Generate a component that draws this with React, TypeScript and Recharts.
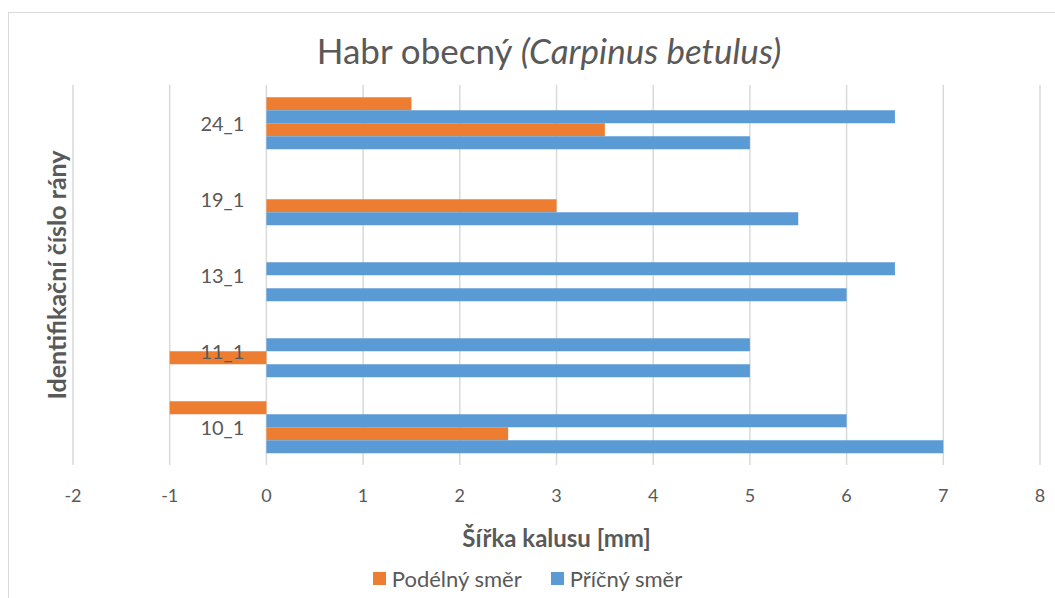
import React from 'react';
import { BarChart, Bar, XAxis, YAxis, CartesianGrid, Legend, Label } from 'recharts';

// categories listed top to bottom, as in the picture
const categories = ['24_1', '19_1', '13_1', '11_1', '10_1'];

// four series per wound: longitudinal / transverse measured twice
const podelny1 = [1.5, null, null, null, -1];
const pricny1 = [6.5, null, 6.5, 5, 6];
const podelny2 = [3.5, 3, null, -1, 2.5];
const pricny2 = [5, 5.5, 6, 5, 7];

const xTicks = [-2, -1, 0, 1, 2, 3, 4, 5, 6, 7, 8];

const data = categories.map((id, i) => ({
  id,
  podelny1: podelny1[i],
  pricny1: pricny1[i],
  podelny2: podelny2[i],
  pricny2: pricny2[i],
}));

const W = 1055;
const H = 598;
const MARGIN = { top: 85, right: 15, bottom: 48, left: 72 };
const Y_AXIS_W = 1;
const X_MIN = -2;
const X_MAX = 8;
const PLOT_LEFT = MARGIN.left + Y_AXIS_W;
const PLOT_W = W - PLOT_LEFT - MARGIN.right;
const ZERO_X = PLOT_LEFT + (PLOT_W * (0 - X_MIN)) / (X_MAX - X_MIN);

const ORANGE = '#ED7D31';
const BLUE = '#5B9BD5';
const TEXT = '#595959';
const GRID = '#d9d9d9';
const FONT = 'Lato, "Open Sans", sans-serif';

const CategoryTick = ({ y, payload }: any) => (
  <text x={ZERO_X - 22} y={y} textAnchor="end" dominantBaseline="central" fill={TEXT} fontSize={20} fontFamily={FONT}>
    {payload.value}
  </text>
);

const XTitle = ({ viewBox }: any) => (
  <text
    x={viewBox.x + viewBox.width / 2}
    y={viewBox.y + 72}
    textAnchor="middle"
    dominantBaseline="central"
    fill={TEXT}
    fontSize={24}
    fontWeight={700}
    fontFamily={FONT}
  >
    Šířka kalusu [mm]
  </text>
);

const YTitle = ({ viewBox }: any) => {
  const cx = viewBox.x + viewBox.width - 17;
  const cy = viewBox.y + viewBox.height / 2;
  return (
    <text
      x={cx}
      y={cy}
      transform={`rotate(-90, ${cx}, ${cy})`}
      textAnchor="middle"
      dominantBaseline="central"
      fill={TEXT}
      fontSize={25}
      fontWeight={700}
      fontFamily={FONT}
    >
      Identifikační číslo rány
    </text>
  );
};

const LegendContent = ({ payload }: any) => (
  <div style={{ display: 'flex', justifyContent: 'center', gap: 29, fontFamily: FONT, fontSize: 22, color: TEXT, lineHeight: '25px' }}>
    {(payload || [])
      .filter((entry: any) => entry.type !== 'none')
      .map((entry: any) => (
        <div key={entry.value} style={{ display: 'flex', alignItems: 'center', gap: 6 }}>
          <span style={{ width: 13, height: 13, background: entry.color, display: 'inline-block' }} />
          <span>{entry.value}</span>
        </div>
      ))}
  </div>
);

export default function App() {
  return (
    <div style={{ position: 'absolute', left: 0, top: 0, width: W, height: H, overflow: 'hidden', background: '#fff', fontFamily: FONT }}>
      <div style={{ position: 'absolute', left: 8, top: 12, width: 1200, height: 800, border: `1px solid ${GRID}` }} />
      <div style={{ position: 'absolute', left: 0, top: 30, width: 1098, textAlign: 'center', fontSize: 35, color: TEXT, lineHeight: '40px' }}>
        Habr obecný <i>(Carpinus betulus)</i>
      </div>
      <BarChart
        width={W}
        height={H}
        data={data}
        layout="vertical"
        margin={MARGIN}
        barCategoryGap="16%"
        barGap={0}
      >
        <CartesianGrid horizontal={false} stroke={GRID} strokeWidth={1.5} />
        <XAxis
          type="number"
          domain={[X_MIN, X_MAX]}
          ticks={xTicks}
          interval={0}
          axisLine={false}
          tickLine={false}
          height={85}
          tickMargin={18}
          tick={{ fill: TEXT, fontSize: 18, fontFamily: FONT }}
        >
          <Label content={XTitle} />
        </XAxis>
        <YAxis
          type="category"
          dataKey="id"
          width={Y_AXIS_W}
          axisLine={false}
          tickLine={false}
          tick={CategoryTick}
          interval={0}
        >
          <Label content={YTitle} />
        </YAxis>
        <Legend
          layout="horizontal"
          verticalAlign="middle"
          align="center"
          wrapperStyle={{ top: 566, left: 0, width: W }}
          content={LegendContent}
        />
        <Bar dataKey="podelny1" name="Podélný směr" fill={ORANGE} isAnimationActive={false} />
        <Bar dataKey="pricny1" name="Příčný směr" fill={BLUE} isAnimationActive={false} />
        <Bar dataKey="podelny2" name="Podélný směr 2" fill={ORANGE} legendType="none" isAnimationActive={false} />
        <Bar dataKey="pricny2" name="Příčný směr 2" fill={BLUE} legendType="none" isAnimationActive={false} />
      </BarChart>
    </div>
  );
}
